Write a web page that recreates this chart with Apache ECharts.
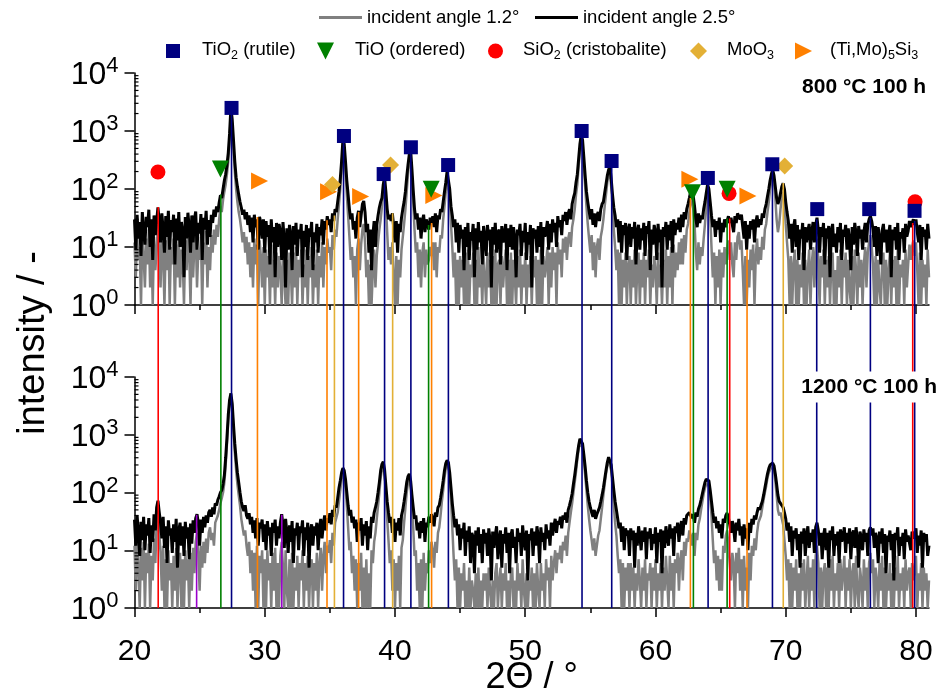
<!DOCTYPE html>
<html><head><meta charset="utf-8">
<script src="https://cdn.jsdelivr.net/npm/echarts@6/dist/echarts.min.js"></script>
<style>html,body{margin:0;padding:0;background:#fff}#c{width:942px;height:695px}</style>
</head><body><div id="c"></div>
<script>
// ---- sampling of the 2θ axis (degrees); one row below = one degree ----
const angleStart = 20.0;
const angleStep = 0.1;

// ---- 800 °C 100 h, incident angle 1.2° ----
const top_1p2 = [
12,3,16,6,10,1,18,7,2,14,
5,20,2,11,1,15,4,9,24,10,
2,15,7,1,13,4,18,1,10,5,
14,1,11,3,17,2,9,6,1,13,
4,16,8,1,14,3,11,18,2,9,
6,15,1,12,5,19,2,10,4,16,
8,20,11,24,15,30,50,40,65,90,
120,180,300,700,2000,1200,500,200,100,60,
40,30,20,12,18,8,15,5,12,3,
10,2,14,5,11,1,13,7,2,10,
1,9,3,7,1,11,2,6,1,8,
2,7,4,1,9,3,1,6,1,8,
4,1,8,2,10,1,6,3,9,1,
5,2,9,1,7,3,10,1,5,2,
9,1,7,3,12,2,10,5,14,8,
10,4,16,9,20,15,30,55,100,220,
550,450,200,80,35,15,6,10,3,7,
1,9,14,4,11,20,25,12,3,6,
1,5,1,4,9,2,7,12,20,30,
50,90,120,55,18,6,10,5,12,3,
1,7,1,6,3,9,15,25,45,90,
180,300,380,160,60,20,8,12,3,9,
2,8,12,3,9,5,6,10,7,12,
4,12,3,10,8,16,14,30,50,90,
160,150,70,25,10,3,8,1,6,1,
7,2,6,1,8,1,9,1,5,3,
8,1,6,1,10,2,5,1,7,3,
1,8,2,6,1,7,1,9,1,5,
6,1,7,2,5,9,1,6,1,8,
1,6,3,1,7,2,9,1,5,2,
8,1,5,2,7,1,6,3,7,1,
6,1,9,1,7,3,5,10,1,8,
2,10,4,8,1,12,5,9,3,14,
8,15,6,14,18,10,22,30,45,80,
120,250,450,700,550,250,110,50,25,14,
8,16,4,12,3,10,14,6,15,20,
30,50,80,130,180,200,110,50,20,10,
4,9,1,8,1,6,2,8,1,5,
7,1,6,2,9,1,4,8,1,6,
2,8,1,6,3,9,1,5,2,7,
4,1,8,2,5,1,6,2,9,1,
7,2,10,1,11,3,8,4,12,5,
14,5,16,8,20,25,40,60,70,45,
25,8,4,12,5,10,7,14,25,50,
90,75,35,10,3,8,1,7,2,9,
1,8,3,10,5,9,13,6,12,5,
3,12,6,15,18,9,13,4,1,7,
1,6,2,9,4,11,1,7,14,5,
10,6,15,9,20,25,40,60,100,140,
160,130,70,30,18,25,45,70,90,60,
25,12,6,1,7,1,5,9,1,6,
1,5,2,8,1,6,1,4,9,1,
5,10,2,8,14,6,1,7,3,9,
1,6,2,7,1,5,8,1,4,1,
7,2,9,1,6,3,8,1,6,2,
1,7,1,9,4,1,8,2,6,1,
5,10,2,8,12,16,10,5,1,7,
1,6,2,1,5,8,1,6,1,4,
8,1,6,2,7,1,9,1,5,3,
6,1,9,2,5,11,6,10,13,7,
12,4,1,8,1,6,2,5,1,9,
3];

// ---- 800 °C 100 h, incident angle 2.5° ----
const top_2p5 = [
30,9,36,14,27,7,40,18,11,33,
22,44,10,30,6,35,16,28,48,28,
12,38,20,8,34,15,42,9,29,18,
36,5,31,13,40,10,27,19,3,33,
14,39,22,8,35,12,30,41,9,26,
17,37,6,32,20,42,11,29,15,36,
26,44,33,50,40,58,78,70,100,140,
180,260,420,900,2500,1600,700,300,160,110,
80,60,48,36,44,30,40,24,35,18,
32,12,36,22,30,9,33,26,14,30,
8,28,15,24,5,30,12,22,3,26,
10,25,18,6,27,13,2,21,9,24,
16,4,23,11,26,7,20,14,25,3,
19,10,24,6,21,15,27,4,18,12,
25,8,22,16,30,11,28,20,34,24,
30,18,38,28,45,40,60,90,150,300,
700,600,300,140,80,45,30,38,20,28,
14,32,42,22,35,55,62,40,18,25,
8,20,4,16,28,10,24,35,48,60,
70,120,160,90,45,30,36,28,38,22,
12,28,8,25,18,32,45,60,90,160,
260,400,470,220,95,45,30,38,20,32,
14,28,36,18,30,24,20,32,26,34,
22,38,18,35,30,45,40,60,90,130,
200,190,100,50,35,22,30,12,26,8,
24,14,20,4,22,10,26,6,18,13,
25,3,21,9,27,12,19,5,23,15,
7,24,13,20,2,22,11,26,8,18,
20,5,23,12,17,25,4,21,10,24,
9,22,14,3,20,16,25,7,19,12,
26,6,18,11,24,2,21,14,20,8,
23,10,27,5,22,15,19,28,9,25,
12,30,18,26,10,34,22,29,16,36,
28,40,24,38,45,30,55,70,85,130,
180,330,600,850,700,350,170,90,60,42,
30,45,24,38,22,35,40,28,45,55,
60,85,120,170,215,240,150,80,48,35,
22,30,12,28,8,24,16,26,6,20,
25,10,22,14,27,5,19,24,9,21,
13,26,7,23,17,28,4,20,11,24,
18,6,25,12,20,2,22,15,27,9,
24,13,28,8,30,16,26,20,32,18,
36,22,40,30,45,55,70,90,100,75,
50,30,22,38,26,35,30,45,60,85,
120,100,60,35,22,30,15,28,20,32,
12,26,18,30,22,28,34,26,32,24,
18,34,26,38,40,30,36,22,14,28,
9,24,14,28,20,30,12,26,35,22,
30,24,38,32,45,55,75,100,140,180,
215,170,110,70,55,65,85,110,125,100,
60,40,28,14,25,8,22,30,10,24,
6,20,14,26,4,22,12,19,25,9,
18,27,12,24,32,20,8,22,15,26,
5,21,14,23,3,19,25,10,17,8,
22,12,26,6,20,15,24,9,21,13,
4,22,11,26,17,7,23,14,20,9,
18,26,12,24,30,34,28,20,10,23,
7,22,14,5,19,25,12,20,8,17,
24,3,20,13,22,9,26,6,18,14,
21,8,25,15,19,28,22,26,30,24,
30,18,12,24,6,22,15,20,9,25,
14];

// ---- 1200 °C 100 h, incident angle 1.2° ----
const bot_1p2 = [
12,2,16,5,1,11,3,14,1,9,
4,13,1,8,3,16,6,30,50,20,
9,2,12,1,7,1,10,3,6,1,
8,2,11,1,5,9,1,7,1,10,
3,7,1,9,2,11,4,14,20,9,
2,12,5,14,6,16,9,20,25,15,
20,12,30,28,40,50,65,80,100,150,
300,700,1800,3500,4500,3000,1200,500,250,140,
90,60,35,25,18,22,12,8,14,4,
10,2,9,1,12,1,8,4,10,1,
7,1,10,3,6,1,9,2,11,1,
6,1,8,14,5,1,10,2,1,7,
1,9,1,5,2,8,1,6,3,10,
1,6,2,8,1,5,7,1,6,2,
9,1,6,11,2,8,14,4,12,9,
15,6,20,12,30,28,45,70,110,170,
220,190,120,60,25,10,14,4,8,2,
7,1,6,2,9,1,5,1,7,1,
4,1,10,6,14,20,35,60,100,180,
260,290,200,90,35,15,6,10,2,7,
1,6,2,8,1,11,15,30,55,100,
150,170,120,60,25,8,10,2,6,1,
7,1,9,2,6,4,10,6,14,10,
5,14,9,20,25,40,70,110,180,260,
310,280,170,80,25,8,3,7,1,5,
1,4,2,6,1,3,1,5,1,3,
2,1,4,1,5,1,3,1,4,2,
4,1,5,2,1,3,1,4,6,1,
3,5,1,4,2,6,1,3,1,4,
5,1,3,1,6,2,4,1,7,2,
1,4,1,3,2,5,1,4,1,6,
2,1,6,2,4,1,7,3,5,1,
8,3,6,10,4,9,7,12,6,14,
10,18,8,20,30,45,65,100,150,230,
380,560,750,780,600,360,200,110,60,35,
22,15,10,16,8,12,18,22,35,55,
90,140,210,290,360,350,240,130,60,30,
18,8,4,7,1,6,1,5,2,6,
1,6,2,5,1,4,2,7,3,1,
5,2,7,1,4,3,6,1,5,2,
7,1,4,2,6,1,5,2,8,3,
1,8,2,6,1,7,4,9,2,7,
10,3,14,8,16,14,22,18,12,20,
8,20,15,28,35,50,70,95,120,140,
150,130,80,40,15,6,10,3,8,2,
7,2,12,9,18,22,12,6,3,9,
6,1,9,4,11,2,7,1,8,2,
5,1,9,3,12,8,16,10,20,30,
30,40,55,75,100,130,180,220,250,270,
280,240,160,90,50,40,45,35,28,15,
8,3,7,1,6,1,5,2,7,1,
4,1,6,2,7,1,3,8,1,5,
2,7,1,8,12,6,1,5,1,4,
6,1,5,1,7,2,8,1,4,2,
6,1,7,2,4,8,1,5,2,7,
1,4,6,1,8,2,1,5,3,1,
7,2,5,1,6,9,4,7,1,5,
3,1,6,2,8,1,5,1,4,2,
6,1,4,1,5,2,8,1,4,2,
5,1,7,2,4,5,1,6,3,5,
8,1,4,2,6,1,5,2,4,1,
3];

// ---- 1200 °C 100 h, incident angle 2.5° ----
const bot_2p5 = [
34,12,40,20,8,31,15,38,10,28,
18,36,9,27,14,42,22,55,72,45,
30,16,38,11,26,6,33,18,24,9,
28,14,35,5,22,30,12,26,8,31,
16,25,7,29,13,33,20,36,42,30,
12,34,20,38,25,40,30,45,50,38,
55,42,65,60,75,85,100,110,140,200,
400,900,2200,4000,5200,3500,1500,700,380,220,
150,100,70,55,48,60,40,35,44,28,
38,20,33,16,36,12,30,24,34,14,
28,10,32,18,25,8,30,20,34,12,
26,16,30,42,28,11,35,20,9,27,
14,32,6,24,18,30,10,26,20,33,
8,25,15,30,5,22,28,12,26,18,
30,10,24,35,16,28,40,22,36,30,
44,28,50,38,60,55,80,120,160,220,
265,240,170,100,60,40,50,30,38,24,
34,14,30,22,36,12,28,18,32,10,
26,16,38,30,45,55,70,100,150,240,
310,340,250,130,70,45,30,38,20,35,
14,30,22,36,18,40,50,70,100,150,
190,210,160,90,55,35,40,22,30,16,
32,20,36,14,30,25,38,30,42,35,
26,45,38,55,60,80,110,160,240,320,
360,330,220,120,65,40,25,35,18,28,
10,24,16,30,8,22,14,26,6,20,
17,4,22,12,25,9,19,6,23,13,
20,8,24,15,3,21,11,18,26,7,
16,22,5,19,13,25,9,20,4,18,
23,11,17,6,24,14,20,8,27,15,
10,22,3,19,15,24,8,21,12,26,
17,6,25,14,20,10,28,16,22,12,
30,18,26,35,20,32,28,38,24,40,
34,45,30,50,60,75,95,140,200,300,
450,650,850,880,700,450,280,160,100,70,
55,45,38,50,35,42,48,55,70,90,
120,170,240,330,410,400,300,180,110,70,
50,35,24,30,14,26,10,24,18,22,
8,24,15,22,5,20,12,26,18,10,
22,14,25,7,21,16,24,10,19,13,
25,6,20,14,23,4,22,11,26,17,
12,28,16,24,8,26,20,30,14,25,
32,18,36,28,40,38,45,40,36,42,
30,45,38,52,60,75,95,120,150,170,
178,160,110,70,45,30,38,24,32,20,
28,16,35,30,40,44,36,28,20,32,
25,14,30,22,35,18,26,12,28,16,
24,10,30,20,35,28,40,34,45,55,
50,60,70,90,120,160,210,260,300,320,
324,290,210,140,90,70,68,60,55,45,
35,22,30,14,26,8,22,16,24,10,
19,5,21,13,24,8,18,26,11,20,
14,23,9,25,30,22,12,20,7,18,
24,10,20,5,22,15,26,8,19,12,
21,6,23,14,18,25,9,20,13,24,
7,19,22,11,25,15,5,21,17,10,
23,14,20,8,22,25,18,24,11,20,
16,6,21,13,24,9,19,4,18,14,
22,10,19,3,20,15,25,8,17,12,
20,7,23,14,18,17,10,21,16,19,
24,9,18,12,22,5,20,14,19,8,
12];

// ---- reference reflections (2θ) and the curve height where each stick starts ----
const rutileAngles = [27.45,36.05,39.2,41.22,44.1,54.36,56.64,64.04,68.98,72.38,76.5,79.9];
const rutileTops   = [2500,700,160,470,200,850,240,120,215,30,32,28];
const tioAngles    = [26.63,42.58,62.91,65.5];
const tioTops      = [80,24,75,31];
const sio2Angles   = [21.82,65.7,79.75];
const sio2Tops     = [49,31,26];
const moo3Angles   = [35.35,39.82,69.81];
const moo3Tops     = [35,38,127];
const timosiAngles = [29.44,34.78,37.21,42.81,62.68,67.03];
const timosiTops   = [33,29,40,26,70,9];
const otherAngles  = [24.77,31.31];   // unlabelled phase, lower pattern only
const otherTops    = [41,41];

// ---- phase markers in the upper pattern [2θ, intensity] ----
const rutileMarks = [[27.45,2500],[36.08,820],[39.13,181],[41.22,524],[44.08,259],[54.33,1000],[56.63,304],[64.02,155],[68.97,267],[72.42,45],[76.41,45],[79.89,42]];
const tioMarks    = [[26.6,221],[42.78,99],[62.84,86],[65.5,99]];
const sio2Marks   = [[21.8,196],[65.65,84],[79.93,60]];
const moo3Marks   = [[35.2,120],[39.66,259],[69.92,249]];
const timosiMarks = [[29.6,137],[34.9,90],[37.36,74],[42.98,77],[62.64,147],[67.1,76]];

// ---- axis ticks ----
const xTickValues = [20,30,40,50,60,70,80];
const logDecades = [1,10,100,1000];
const logMinorMultipliers = [2,3,4,5,6,7,8,9];

// ---------------------------------------------------------------
const FONT = 'Liberation Sans';
const GRID_T = {left:134.5, top:73, right:13, height:232, containLabel:false, outerBoundsMode:'none'};
const GRID_B = {left:134.5, top:377, right:13, height:231, containLabel:false, outerBoundsMode:'none'};
const STICK_BOTTOM = GRID_B.top + GRID_B.height;
const C = {rutile:'#000080', tio:'#008000', sio2:'#FF0000', moo3:'#E3B036', timosi:'#FF8000', other:'#9900CC'};
const TRI_DOWN = 'path://M0,0L10,0L5,10Z';
const TRI_RIGHT = 'path://M0,0L10,5L0,10Z';

function toXY(vals){ return vals.map((v,i)=>[Math.round((angleStart + i*angleStep)*10)/10, v]); }

function xAxisCfg(gi, showLabels){
  return {type:'value', gridIndex:gi, min:20, max:81, interval:10,
    axisLine:{show:true, onZero:false, lineStyle:{color:'#000', width:1.5}},
    axisTick:{show:true, length:9, customValues:xTickValues, lineStyle:{color:'#000', width:1.5}},
    minorTick:{show:true, splitNumber:2, length:5, lineStyle:{color:'#000', width:1.5}},
    splitLine:{show:false}, minorSplitLine:{show:false},
    axisLabel:{show:showLabels, customValues:xTickValues, fontSize:30, fontFamily:FONT, color:'#000', margin:29,
      formatter: v => (v % 10 === 0 ? String(v) : '')},
    name: showLabels ? '2Θ / °' : '', nameLocation:'middle', nameGap:52, nameMoveOverlap:false,
    nameTextStyle:{fontSize:36, fontFamily:FONT, color:'#000'}
  };
}
function yAxisCfg(gi){
  return {type:'log', gridIndex:gi, logBase:10, min:1, max:10000,
    axisLine:{show:true, onZero:false, lineStyle:{color:'#000', width:1.5}},
    axisTick:{show:true, length:10, lineStyle:{color:'#000', width:1.5}},
    splitLine:{show:false},
    axisLabel:{margin:16, formatter: v => '{b|10}{e|' + Math.round(Math.log10(v)) + '}',
      rich:{ b:{fontSize:32, lineHeight:36, verticalAlign:'bottom', fontFamily:FONT, color:'#000'},
             e:{fontSize:22, lineHeight:22, verticalAlign:'top', fontFamily:FONT, color:'#000'} } }
  };
}
function curve(name, vals, gi, color, width, z){
  return {type:'line', name, xAxisIndex:gi, yAxisIndex:gi, data:toXY(vals), symbol:'none', showSymbol:false,
    lineStyle:{color, width}, itemStyle:{color}, z, silent:true, clip:true};
}
function sticks(angles, tops, color, gi){
  return {type:'custom', xAxisIndex:gi, yAxisIndex:gi, z:6, silent:true, clip:false,
    data: angles.map((a,i)=>[a, tops[i]]),
    renderItem:(params, api)=>{
      const p = api.coord([api.value(0), api.value(1)]);
      return {type:'line', shape:{x1:p[0], y1:p[1], x2:p[0], y2:STICK_BOTTOM}, style:{stroke:color, lineWidth:1.6}};
    }};
}
function minorTicks(gi){
  const vals = [];
  logDecades.forEach(d => logMinorMultipliers.forEach(m => vals.push([20, d*m])));
  return {type:'custom', xAxisIndex:gi, yAxisIndex:gi, z:7, silent:true, clip:false, data:vals,
    renderItem:(params, api)=>{
      const p = api.coord([api.value(0), api.value(1)]);
      return {type:'line', shape:{x1:p[0], y1:p[1], x2:p[0]+4, y2:p[1]}, style:{stroke:'#000', lineWidth:1.2}};
    }};
}
function marks(name, data, symbol, size, rotate, color, z){
  return {type:'scatter', name, xAxisIndex:0, yAxisIndex:0, data, symbol, symbolSize:size, symbolRotate:rotate,
    itemStyle:{color, opacity:1}, z, silent:true, clip:false};
}
function richName(name){
  const map = {
    'TiO2 (rutile)':'{p| }{t|TiO}{s|2}{t| (rutile)}',
    'TiO (ordered)':'{p| }{t|TiO (ordered)}',
    'SiO2 (cristobalite)':'{p| }{t|SiO}{s|2}{t| (cristobalite)}',
    'MoO3':'{p| }{t|MoO}{s|3}',
    '(Ti,Mo)5Si3':'{p| }{t|(Ti,Mo)}{s|5}{t|Si}{s|3}'
  };
  return map[name];
}
function symLegend(name, left, size, pad, icon, color){
  return {data:[{name, icon, itemStyle:{color}}], left, top:40, padding:0, itemWidth:size, itemHeight:size, selectedMode:false,
    symbolKeepAspect:true,
    formatter: richName,
    textStyle:{fontFamily:FONT, color:'#000', rich:{
      p:{width:pad, fontSize:18.5, lineHeight:22},
      t:{fontSize:18.5, lineHeight:22, verticalAlign:'top', fontFamily:FONT, color:'#000'},
      s:{fontSize:12.5, lineHeight:13, verticalAlign:'bottom', fontFamily:FONT, color:'#000'} }}};
}

const chart = echarts.init(document.getElementById('c'), null, {renderer:'canvas'});
chart.setOption({
  animation:false,
  backgroundColor:'#fff',
  grid:[GRID_T, GRID_B],
  xAxis:[xAxisCfg(0,false), xAxisCfg(1,true)],
  yAxis:[yAxisCfg(0), yAxisCfg(1)],
  legend:[
    {data:[{name:'incident angle 1.2°', icon:'rect', itemStyle:{color:'#808080'}}], left:319, top:8, padding:0,
     itemWidth:43, itemHeight:3, selectedMode:false,
     textStyle:{fontFamily:FONT, fontSize:18.5, color:'#000'}},
    {data:[{name:'incident angle 2.5°', icon:'rect', itemStyle:{color:'#000000'}}], left:535, top:8, padding:0,
     itemWidth:43, itemHeight:3, selectedMode:false,
     textStyle:{fontFamily:FONT, fontSize:18.5, color:'#000'}},
    symLegend('TiO2 (rutile)', 166, 14, 17, 'rect', C.rutile),
    symLegend('TiO (ordered)', 317, 17, 16, TRI_DOWN, C.tio),
    symLegend('SiO2 (cristobalite)', 488, 15, 15, 'circle', C.sio2),
    symLegend('MoO3', 690, 17, 15, 'diamond', C.moo3),
    symLegend('(Ti,Mo)5Si3', 795, 17, 13, TRI_RIGHT, C.timosi)
  ],
  graphic:[
    {type:'text', x:926, y:87, z:100, style:{text:'800 °C 100 h', fontSize:21, fontWeight:'bold', fontFamily:FONT,
      fill:'#000', align:'right', verticalAlign:'middle'}},
    {type:'text', x:938, y:387, z:100, zlevel:1, style:{text:'1200 °C 100 h', fontSize:21, fontWeight:'bold', fontFamily:FONT,
      fill:'#000', align:'right', verticalAlign:'middle', backgroundColor:'#fff', padding:[5,1,5,3]}},
    {type:'text', x:34, y:343, rotation:Math.PI/2, style:{text:'intensity / -', fontSize:38, fontFamily:FONT,
      fill:'#000', align:'center', verticalAlign:'middle'}}
  ],
  series:[
    curve('incident angle 1.2°', top_1p2, 0, '#808080', 2.5, 2),
    curve('incident angle 2.5°', top_2p5, 0, '#000000', 3, 3),
    curve('incident angle 1.2°', bot_1p2, 1, '#808080', 2.5, 2),
    curve('incident angle 2.5°', bot_2p5, 1, '#000000', 3, 3),
    sticks(rutileAngles, rutileTops, C.rutile, 0),
    sticks(tioAngles, tioTops, C.tio, 0),
    sticks(sio2Angles, sio2Tops, C.sio2, 0),
    sticks(moo3Angles, moo3Tops, C.moo3, 0),
    sticks(timosiAngles, timosiTops, C.timosi, 0),
    sticks(otherAngles, otherTops, C.other, 1),
    minorTicks(0), minorTicks(1),
    marks('(Ti,Mo)5Si3', timosiMarks, 'triangle', 17, -90, C.timosi, 8),
    marks('SiO2 (cristobalite)', sio2Marks, 'circle', 15, 0, C.sio2, 9),
    marks('MoO3', moo3Marks, 'diamond', 17, 0, C.moo3, 10),
    marks('TiO (ordered)', tioMarks, 'triangle', 17, 180, C.tio, 11),
    marks('TiO2 (rutile)', rutileMarks, 'rect', 14, 0, C.rutile, 12)
  ]
});
</script></body></html>
